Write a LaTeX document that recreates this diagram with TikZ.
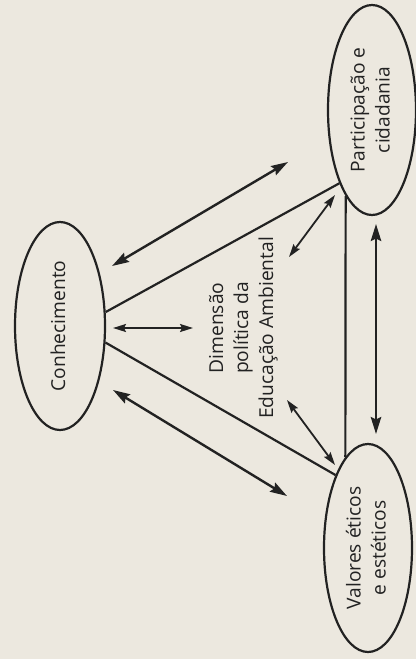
\documentclass[tikz,border=0pt]{standalone}
\usepackage{fontspec}
\setmainfont{Open Sans}
\usepackage{graphicx}
\usetikzlibrary{arrows.meta,shapes.geometric}
\definecolor{paper}{HTML}{ECE8DF}
\definecolor{ink}{HTML}{222222}

% text turned a quarter, read from bottom to top
\newcommand{\vtext}[1]{\rotatebox{90}{\begin{tabular}{@{}c@{}}#1\end{tabular}}}

\begin{document}
\begin{tikzpicture}[
  x=0.5pt, y=-0.5pt,
  font=\fontsize{9.6}{12.5}\selectfont,
  oval/.style={ellipse, draw=ink, line width=1.1pt, inner sep=0pt, text=ink},
  lbl/.style={inner sep=0pt, text=ink},
  edge/.style={ink, line width=1.1pt},
  flow/.style={{Stealth[length=8.5pt,width=5.2pt,inset=1.2pt]}-{Stealth[length=8.5pt,width=5.2pt,inset=1.2pt]},
               ink, line width=1.2pt},
  flowsm/.style={{Stealth[length=6.5pt,width=4pt,inset=1pt]}-{Stealth[length=6.5pt,width=4pt,inset=1pt]},
                 ink, line width=0.9pt},
]

% ---- paper ----
\fill[paper] (0,0) rectangle (416,659);
\useasboundingbox (0,0) rectangle (416,659);

% ---- the three ovals ----
\node[oval, minimum width=45pt, minimum height=104pt] (conh) at (60,326) {\vtext{Conhecimento}};
\node[oval, minimum width=44pt, minimum height=105pt] (part) at (372,110) {\vtext{Participação e\\cidadania}};
\node[oval, minimum width=44pt, minimum height=104pt] (val) at (368,548) {\vtext{Valores éticos\\e estéticos}};

% ---- centre label ----
\node[lbl] (dim) at (243,328) {\vtext{Dimensão\\política da\\Educação Ambiental}};

% ---- triangle ----
\draw[edge] (conh.17) -- (part.246);
\draw[edge] (conh.340) -- (val.114);
\draw[edge] (part.253) -- (val.104);

% ---- free arrow ends ----
\coordinate (cpA) at (112,266);
\coordinate (cpB) at (288,162);
\coordinate (cvA) at (113,390);
\coordinate (cvB) at (287,496);
\coordinate (pvA) at (376,224);
\coordinate (pvB) at (376,434);
\coordinate (pdA) at (335,195);
\coordinate (pdB) at (289,257);
\coordinate (vdA) at (335,465);
\coordinate (vdB) at (287,400);
\coordinate (cdA) at (113,328);
\coordinate (cdB) at (193,328);

% ---- outer double arrows ----
\draw[flow] (cpA) -- (cpB);
\draw[flow] (cvA) -- (cvB);
\draw[flow] (pvA) -- (pvB);

% ---- inner double arrows, toward the centre ----
\draw[flowsm] (pdA) -- (pdB);
\draw[flowsm] (vdA) -- (vdB);
\draw[flowsm] (cdA) -- (cdB);

\end{tikzpicture}
\end{document}
